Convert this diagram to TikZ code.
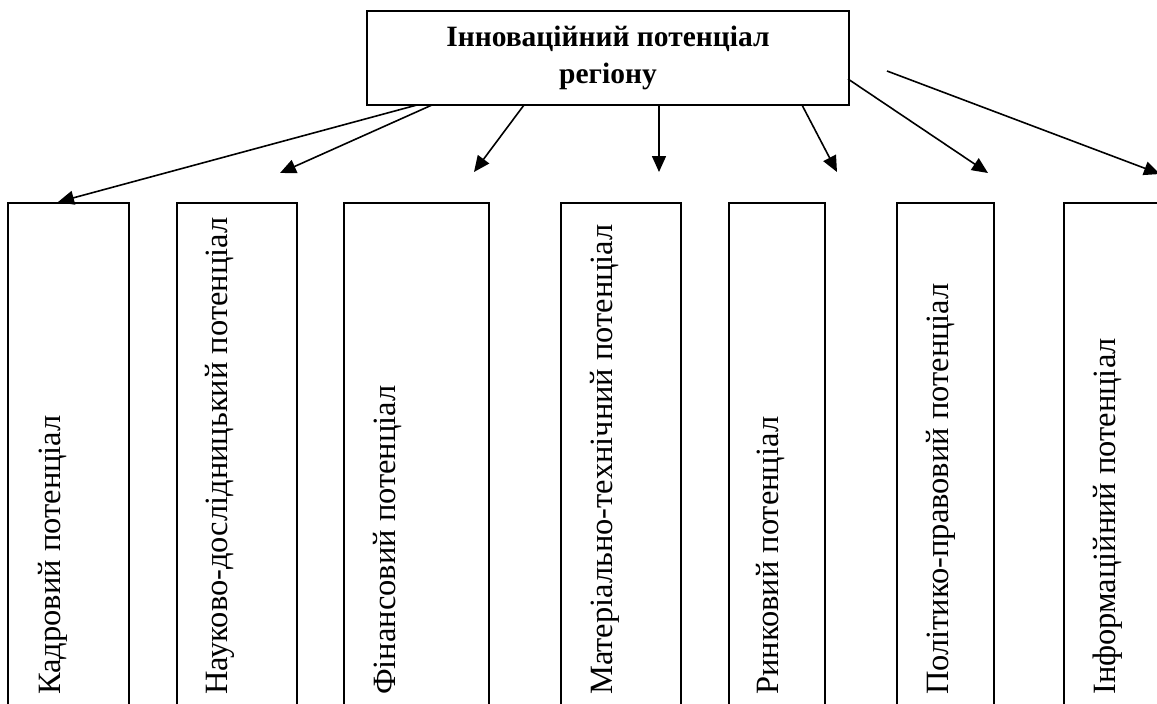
\documentclass[tikz,border=0pt]{standalone}
\usepackage{fontspec}
\setmainfont{Liberation Serif}
\usetikzlibrary{arrows.meta}
\tikzset{
  potbox/.style={draw, line width=1.8pt, minimum height=520pt, anchor=north west, inner sep=0pt},
  pottext/.style={rotate=90, anchor=base west, inner sep=0pt, font=\fontsize{32.5}{36}\selectfont},
  potarrow/.style={line width=1.6pt, -{Triangle[length=16pt,width=14pt]}},
}
\begin{document}
\begin{tikzpicture}[x=1pt,y=-1pt]
		%%%%% START %%%%%
		\clip (0,0) rectangle (1157,704);
		
		\node[draw, line width=1.8pt, minimum width=482pt, minimum height=94pt, align=center,
			font=\bfseries\fontsize{29.5}{37}\selectfont] (region) at (608,58) {Інноваційний потенціал\\регіону};
		
		\node[potbox, minimum width=121pt] (kadr) at (7,202) {};
		\node[potbox, minimum width=120pt] (nauk) at (176,202) {};
		\node[potbox, minimum width=145pt] (fin) at (343,202) {};
		\node[potbox, minimum width=120pt] (mat) at (560,202) {};
		\node[potbox, minimum width=96pt] (rynok) at (728,202) {};
		\node[potbox, minimum width=97pt] (polit) at (896,202) {};
		\node[potbox, minimum width=130pt] (inform) at (1063,202) {};
		
		\node[pottext] (kadrt) at (60,695) {Кадровий потенціал};
		\node[pottext] (naukt) at (227,695) {Науково-дослідницький потенціал};
		\node[pottext] (fint) at (395,695) {Фінансовий потенціал};
		\node[pottext] (matt) at (612,695) {Матеріально-технічний потенціал};
		\node[pottext] (rynokt) at (778,695) {Ринковий потенціал};
		\node[pottext] (politt) at (948,695) {Політико-правовий потенціал};
		\node[pottext] (informt) at (1115,695) {Інформаційний потенціал};
		
		% arrow ends
		\coordinate (s1) at (417,105);
		\coordinate (s2) at (432,105);
		\coordinate (s3) at (524,105);
		\coordinate (s4) at (659,105);
		\coordinate (s5) at (802,105);
		\coordinate (s6) at (848,79);
		\coordinate (s7) at (887,71);
		\coordinate (e2) at (280,173);
		\coordinate (e3) at (474,172);
		\coordinate (e4) at (659,172);
		\coordinate (e5) at (837,172);
		\coordinate (e6) at (988,173);
		\coordinate (e7) at (1160,174);
		
		\draw[potarrow] (s1) -- (kadr.north west -| 58,0);
		\draw[potarrow] (s2) -- (e2);
		\draw[potarrow] (s3) -- (e3);
		\draw[potarrow] (s4) -- (e4);
		\draw[potarrow] (s5) -- (e5);
		\draw[potarrow] (s6) -- (e6);
		\draw[potarrow] (s7) -- (e7);
		
		%%%%% END %%%%%
	\end{tikzpicture}
\end{document}
